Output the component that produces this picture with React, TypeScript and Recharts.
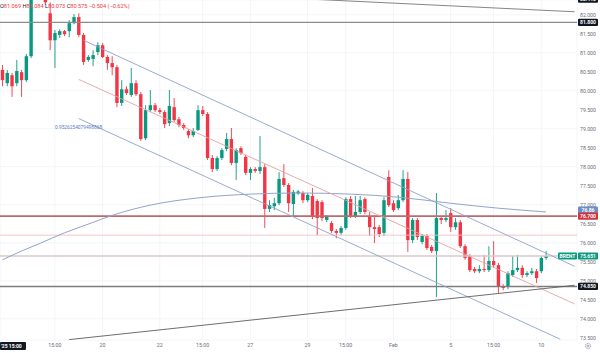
import React from "react";
import {
  ComposedChart,
  Bar,
  Line,
  XAxis,
  YAxis,
  CartesianGrid,
  ReferenceLine,
} from "recharts";

// 4h Brent candles (first two after the big green one sit above the visible range)
const opens = [
  80.55, 80.2, 80.41, 80.2, 80.49, 80.28, 80.91, 82.6, 83.05, 82.7,
  82.04, 81.33, 81.47, 81.57, 81.57, 81.78, 81.94, 81.47, 80.81, 80.84,
  81.02, 81.2, 80.89, 80.73, 80.62, 79.68, 80.04, 79.89, 80.2, 79.91,
  78.75, 79.49, 79.62, 79.49, 79.44, 79.15, 79.57, 79.25, 79.1, 78.94,
  78.83, 78.97, 79.49, 79.39, 78.23, 77.94, 78.23, 78.47, 78.73, 78.1,
  78.49, 78.26, 77.84, 77.94, 77.89, 77.99, 76.89, 76.96, 77.04, 77.7,
  77.52, 77.02, 77.3, 77.31, 77.12, 77.23, 77.1, 77.07, 76.6, 76.52,
  76.31, 76.26, 76.39, 77.15, 76.7, 76.81, 77.15, 76.7, 76.41, 76.41,
  76.26, 77.73, 77.04, 76.91, 77.12, 77.68, 76.07, 76.6, 76.02, 76.18,
  75.89, 75.78, 76.65, 76.6, 76.78, 76.41, 76.54, 75.91, 75.65, 75.31,
  75.25, 75.31, 75.28, 75.52, 75.41, 74.86, 74.84, 75.15, 75.28, 75.34,
  75.15, 75.2, 75.25, 75.25, 75.6,
];
const highs = [
  80.68, 80.55, 80.47, 80.81, 80.55, 80.97, 82.78, 83.2, 83.15, 82.8,
  82.33, 81.6, 81.62, 81.6, 81.86, 82.02, 82.04, 81.52, 80.94, 81.07,
  81.28, 81.26, 80.94, 80.91, 80.68, 80.28, 80.12, 80.6, 80.28, 79.97,
  79.62, 80.02, 79.68, 79.55, 79.49, 80.02, 79.81, 79.31, 79.15, 78.99,
  79.02, 79.62, 79.6, 79.44, 78.31, 78.28, 78.49, 78.89, 79.02, 78.49,
  78.54, 78.31, 77.99, 77.99, 78.81, 78.07, 77.12, 77.18, 77.86, 78.07,
  77.57, 77.39, 77.39, 77.36, 77.31, 77.44, 77.15, 77.12, 76.73, 76.57,
  76.36, 76.44, 77.2, 77.23, 77.23, 77.23, 77.2, 76.81, 76.73, 76.47,
  77.2, 77.91, 77.12, 77.26, 77.91, 77.86, 76.65, 76.65, 76.23, 76.23,
  75.94, 77.31, 76.7, 76.86, 76.91, 76.65, 76.6, 75.96, 75.7, 75.36,
  75.41, 75.68, 75.91, 76.04, 75.47, 74.91, 75.25, 75.65, 75.68, 75.41,
  75.25, 75.34, 75.31, 75.65, 75.78,
];
const lows = [
  80.12, 80.12, 79.84, 80.12, 79.84, 80.23, 80.86, 82.5, 82.55, 82.26,
  81.07, 80.6, 81.39, 81.44, 81.41, 81.75, 81.41, 80.68, 80.76, 80.65,
  80.94, 80.86, 80.55, 80.41, 79.57, 79.6, 79.89, 79.84, 79.86, 78.68,
  78.7, 79.44, 79.44, 79.39, 79.02, 79.07, 79.18, 79.04, 78.97, 78.75,
  78.78, 78.94, 79.33, 78.18, 77.86, 77.89, 78.18, 78.41, 78.04, 77.65,
  78.31, 77.78, 77.65, 77.84, 77.81, 76.39, 76.81, 76.86, 76.99, 77.47,
  76.81, 76.68, 77.26, 77.04, 77.07, 76.62, 76.2, 76.57, 76.54, 76.26,
  76.12, 76.2, 76.34, 76.65, 76.65, 76.75, 76.75, 76.18, 75.99, 76.15,
  76.18, 76.94, 76.81, 76.86, 77.07, 75.76, 75.99, 76.07, 75.96, 75.81,
  75.73, 74.57, 76.49, 76.54, 76.28, 76.34, 75.86, 75.55, 75.23, 75.2,
  75.2, 75.23, 75.23, 75.34, 74.68, 74.75, 74.78, 75.1, 75.23, 75.07,
  75.1, 75.15, 74.94, 75.2, 75.55,
];
const closes = [
  80.28, 80.47, 80.12, 80.52, 80.28, 80.91, 82.6, 83.05, 82.7, 82.33,
  81.33, 81.52, 81.57, 81.49, 81.78, 81.94, 81.47, 80.76, 80.89, 80.94,
  81.2, 80.89, 80.73, 80.62, 79.68, 80.04, 79.94, 80.2, 79.91, 78.73,
  79.49, 79.62, 79.49, 79.44, 79.12, 79.6, 79.23, 79.1, 79.02, 78.83,
  78.94, 79.49, 79.39, 78.23, 77.94, 78.23, 78.44, 78.73, 78.1, 78.44,
  78.36, 77.84, 77.94, 77.89, 77.99, 76.89, 76.99, 77.04, 77.68, 77.52,
  77.04, 77.34, 77.35, 77.12, 77.26, 76.68, 76.65, 76.65, 76.68, 76.31,
  76.26, 76.39, 77.15, 76.7, 76.81, 77.12, 76.81, 76.41, 76.36, 76.23,
  77.12, 76.99, 76.86, 77.12, 77.68, 76.07, 76.6, 76.15, 76.18, 75.86,
  75.78, 76.65, 76.6, 76.65, 76.41, 76.54, 75.91, 75.6, 75.28, 75.25,
  75.31, 75.28, 75.52, 75.41, 74.84, 74.81, 75.2, 75.28, 75.34, 75.15,
  75.2, 75.25, 75.07, 75.6, 75.651,
];

// long moving average (the curved blue line), read at a few candles
const maPoints: [number, number][] = [
  [0, 75.55], [4, 75.78], [8, 75.99], [13, 76.26], [18, 76.49], [23, 76.72],
  [31, 76.99], [41, 77.18], [52, 77.28], [62, 77.31], [73, 77.28],
  [83, 77.2], [94, 77.04], [104, 76.91], [114, 76.81],
];

const xTickLabels: [number, string][] = [
  [11, "15:00"], [21, "20"], [33, "22"], [42, "15:00"], [52, "27"],
  [64, "29"], [72, "15:00"], [82, "Feb"], [94, "5"], [103, "15:00"], [113, "10"],
];
const priceTicks = [
  73.5, 74, 74.5, 75, 75.5, 76, 76.5, 77, 77.5, 78, 78.5, 79, 79.5, 80,
  80.5, 81, 81.5, 82,
];

// drawings: [startIdx, startPrice, endIdx, endPrice]
const channelUpper = [17, 81.33, 120, 75.38];
const channelMid = [16, 80.3, 120, 74.39];
const channelLower = [16, 79.27, 117, 73.46];
const topTrend = [60, 82.44, 120, 82.08];
const supportTrend = [14, 73.45, 120, 74.88];

const SLOTS = 121; // candles + empty right margin
const Y_MIN = 73.44;
const Y_MAX = 82.39;
const UP = "#089981";
const DOWN = "#f23645";
const FONT = "Roboto, 'Liberation Sans', sans-serif";

const maMap = new Map(maPoints);
const tickMap = new Map(xTickLabels);

const data = Array.from({ length: SLOTS }, (_, i) => {
  const has = i < opens.length;
  const lo = has ? Math.max(lows[i], Y_MIN) : 0;
  const hi = has ? Math.min(highs[i], Y_MAX) : 0;
  return {
    idx: i,
    range: has && hi > lo ? [lo, hi] : undefined,
    open: has ? opens[i] : undefined,
    close: has ? closes[i] : undefined,
    ma: maMap.has(i) ? maMap.get(i) : null,
  };
});

function Candle(props: any) {
  const { x, y, width, height, payload } = props;
  if (!payload || !payload.range) return null;
  const [lo, hi] = payload.range;
  const top = Math.min(y, y + height);
  const bot = Math.max(y, y + height);
  const k = (bot - top) / (hi - lo);
  const clamp = (v: number) => Math.min(hi, Math.max(lo, v));
  const yOf = (v: number) => top + (hi - clamp(v)) * k;
  const cx = x + width / 2;
  const color = payload.close >= payload.open ? UP : DOWN;
  const b1 = yOf(Math.max(payload.open, payload.close));
  const b2 = yOf(Math.min(payload.open, payload.close));
  const bw = 3.4;
  return (
    <g>
      <line x1={cx} x2={cx} y1={top} y2={bot} stroke={color} strokeWidth={0.9} />
      <rect x={cx - bw / 2} y={b1} width={bw} height={Math.max(b2 - b1, 0.8)} fill={color} />
    </g>
  );
}

// price tag boxes on the right scale, placed by the reference line's own y
const tag =
  (text: string, bg: string, side?: { text: string; bg: string }) =>
  (p: any) => {
    const vb = p.viewBox || {};
    const x = vb.x + vb.width;
    const y = vb.y;
    return (
      <g fontFamily={FONT}>
        {side && (
          <g>
            <rect x={x - 19} y={y - 3.6} width={19} height={7.2} fill={side.bg} rx={1} />
            <text x={x - 9.5} y={y + 1.9} fontSize={5} fill="#fff" fontWeight={700} textAnchor="middle">
              {side.text}
            </text>
          </g>
        )}
        <rect x={x + 1} y={y - 3.6} width={20} height={7.2} fill={bg} rx={1} />
        <text x={x + 11} y={y + 1.9} fontSize={5} fill="#fff" fontWeight={700} textAnchor="middle">
          {text}
        </text>
      </g>
    );
  };

const seg = (s: number[]) => [
  { x: s[0], y: s[1] },
  { x: s[2], y: s[3] },
];

export default function App() {
  return (
    <div style={{ position: "absolute", left: 0, top: 0, width: 600, height: 353, background: "#fff" }}>
      <ComposedChart
        width={600}
        height={353}
        data={data}
        margin={{ top: 0, right: 0, bottom: 0, left: 0 }}
        barCategoryGap={0}
        barGap={0}
      >
        <CartesianGrid stroke="#f0f2f6" strokeWidth={0.8} />
        <XAxis
          dataKey="idx"
          ticks={xTickLabels.map((t) => t[0])}
          interval={0}
          tickFormatter={(v: number) => tickMap.get(v) || ""}
          axisLine={false}
          tickLine={false}
          tickSize={0}
          tickMargin={3}
          height={13}
          tick={{ fontSize: 5.3, fill: "#6a6d78", fontFamily: FONT }}
        />
        <YAxis
          orientation="right"
          width={23}
          domain={[Y_MIN, Y_MAX]}
          ticks={priceTicks}
          allowDataOverflow
          tickFormatter={(v: number) => v.toFixed(3)}
          axisLine={false}
          tickLine={false}
          tickSize={0}
          tickMargin={3}
          tick={{ fontSize: 5.2, fill: "#6a6d78", fontFamily: FONT }}
        />

        <ReferenceLine y={76.2} stroke="#efc2c2" strokeWidth={0.9} />
        <ReferenceLine y={75.651} stroke="#d9c9ca" strokeWidth={1.6}
          label={tag("75.651", UP, { text: "BRENT", bg: UP })} />
        <ReferenceLine y={76.86} stroke="none" label={tag("76.86", "#6b8fc9")} />
        <ReferenceLine y={76.7} stroke="#bb6b6b" strokeWidth={1.8} label={tag("76.700", "#d0343f")} />
        <ReferenceLine y={81.8} stroke="#8c8c8c" strokeWidth={1.2} label={tag("81.800", "#131722")} />
        <ReferenceLine y={74.85} stroke="#7d7d7d" strokeWidth={1.6} label={tag("74.850", "#131722")} />
        <ReferenceLine y={82.41} stroke="none" ifOverflow="visible" label={tag("82.410", "#131722")} />

        <Line
          dataKey="ma"
          type="monotone"
          stroke="#90a5c9"
          strokeWidth={1}
          dot={false}
          activeDot={false}
          connectNulls
          isAnimationActive={false}
        />

        <Bar dataKey="range" shape={<Candle />} isAnimationActive={false} />

        <ReferenceLine segment={seg(channelUpper)} stroke="#8fa3c6" strokeWidth={0.9} ifOverflow="hidden" />
        <ReferenceLine segment={seg(channelMid)} stroke="#e4a3a3" strokeWidth={0.9} ifOverflow="hidden" />
        <ReferenceLine segment={seg(channelLower)} stroke="#8fa3c6" strokeWidth={0.9} ifOverflow="hidden" />
        <ReferenceLine segment={seg(topTrend)} stroke="#777" strokeWidth={0.9} ifOverflow="hidden" />
        <ReferenceLine segment={seg(supportTrend)} stroke="#5e5e5e" strokeWidth={0.9} ifOverflow="hidden" />
      </ComposedChart>

      <svg
        width={600}
        height={353}
        style={{ position: "absolute", left: 0, top: 0, pointerEvents: "none" }}
        fontFamily={FONT}
      >
        <text x={0} y={8} fontSize={5.6} fill={DOWN}>
          <tspan fill="#131722">O</tspan>81.069 <tspan fill="#131722">H</tspan>81.084{" "}
          <tspan fill="#131722">L</tspan>80.073 <tspan fill="#131722">C</tspan>80.575 −0.504 (−0.62%)
        </text>
        <text x={55} y={129} fontSize={4.8} fill="#5b7ec2">
          0.9526254079498868
        </text>
        <rect x={0} y={342} width={26} height={8} fill="#131722" rx={1} />
        <text x={1} y={348} fontSize={5} fill="#fff" fontWeight={700}>
          '25  15:00
        </text>
        <circle cx={588} cy={346} r={2.6} fill="none" stroke="#8a8d96" strokeWidth={1} strokeDasharray="1 0.8" />
        <circle cx={588} cy={346} r={1} fill="none" stroke="#8a8d96" strokeWidth={0.7} />
      </svg>
    </div>
  );
}
